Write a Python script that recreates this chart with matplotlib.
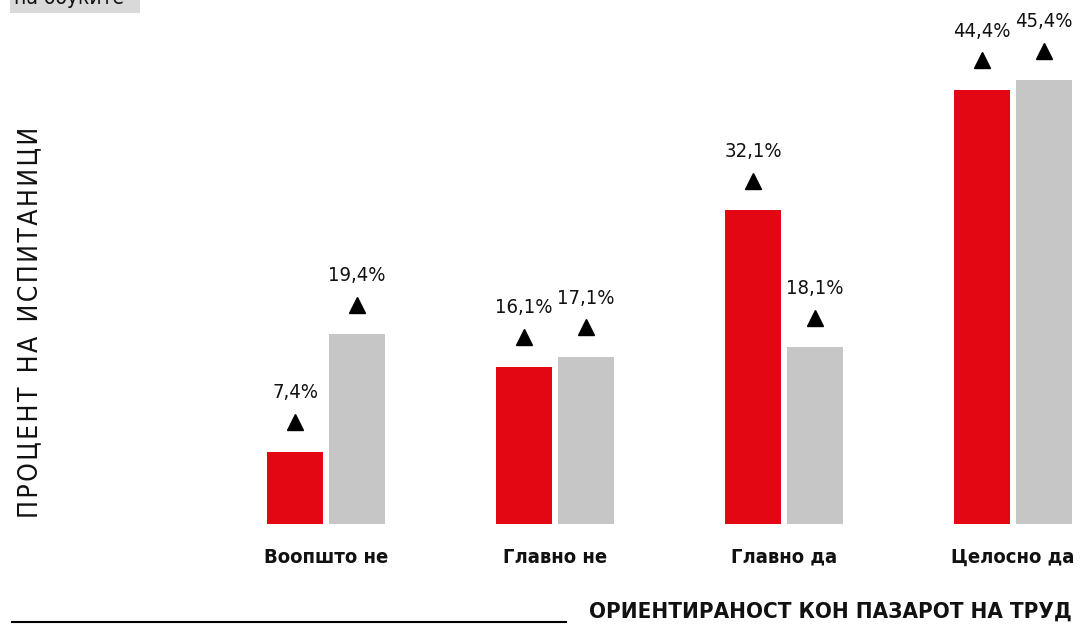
import matplotlib.pyplot as plt
import numpy as np

# категории и вредности
categories = ['Воопшто не', 'Главно не', 'Главно да', 'Целосно да']
red_values = [7.4, 16.1, 32.1, 44.4]
gray_values = [19.4, 17.1, 18.1, 45.4]

RED = '#e30613'
GRAY = '#c6c6c6'

plt.rcParams['font.family'] = ['DejaVu Sans']
plt.rcParams['font.stretch'] = 'condensed'

fig = plt.figure(figsize=(10.8, 6.32), dpi=100)
ax = fig.add_axes([0, 108 / 632, 1, 524 / 632])

x = np.arange(len(categories))
w = 0.245
off = 0.135
ax.bar(x - off, red_values, w, color=RED)
ax.bar(x + off, gray_values, w, color=GRAY)

def fmt(v):
    return f'{v:.1f}'.replace('.', ',') + '%'

for xs, vals in [(x - off, red_values), (x + off, gray_values)]:
    for xi, v in zip(xs, vals):
        ax.plot(xi, v + 3.0, marker='^', color='black', markersize=12, clip_on=False)
        ax.text(xi, v + 6.0, fmt(v), ha='center', va='center', fontsize=14.5,
                color='#111111', clip_on=False)

for xi, c in zip(x, categories):
    ax.text(xi, -3.4, c, ha='center', va='center', fontsize=14.5,
            fontweight='bold', color='#111111', clip_on=False)

ax.set_xlim(-326 / 229, (1080 - 326) / 229)
ax.set_ylim(0, 524 / 9.78)
ax.axis('off')

# наслов на y оската, со проширени букви
ylab = '\u2009\u2009\u2009'.join('\u200a'.join(word) for word in ['ПРОЦЕНТ', 'НА', 'ИСПИТАНИЦИ'])
fig.text(30 / 1080, 1 - 322 / 632, ylab, rotation=90,
         ha='center', va='center', fontsize=19, color='#111111')

# долна линија и наслов на x оската
fig.add_artist(plt.Line2D([12 / 1080, 566 / 1080], [1 - 622 / 632] * 2,
                          color='black', linewidth=1.5))
fig.text(1072 / 1080, 1 - 612 / 632, 'ОРИЕНТИРАНОСТ КОН ПАЗАРОТ НА ТРУД',
         ha='right', va='center', fontsize=16, fontweight='bold', color='#111111')

# пресечен текст горе лево
fig.text(14 / 1080, 1 + 2 / 632, 'на обуките  ', ha='left', va='center',
         fontsize=15, color='#111111',
         bbox=dict(facecolor='#d9d9d9', edgecolor='none', pad=3))

fig.savefig('out.png', dpi=100)
